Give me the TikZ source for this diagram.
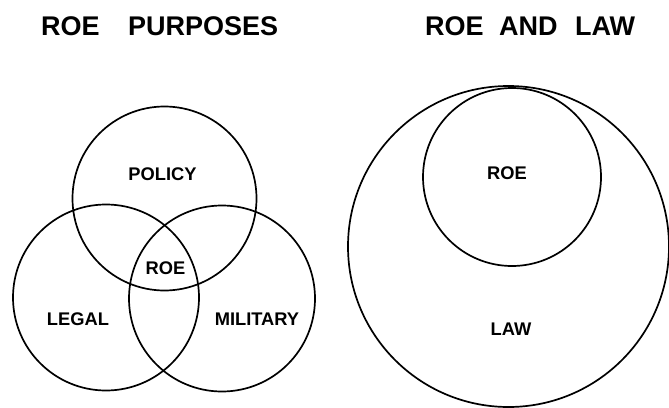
\documentclass[tikz,border=0pt]{standalone}
\usepackage{fontspec}
\setmainfont{Liberation Sans}
\begin{document}
\begin{tikzpicture}[x=1pt,y=-1pt,
  ring/.style={draw=black,line width=1.7pt,circle,inner sep=0pt,minimum size=#1},
  ttl/.style={anchor=base west,inner sep=0pt,font=\fontsize{27}{30}\selectfont\bfseries},
  lbl/.style={anchor=base,inner sep=0pt,font=\fontsize{18.3}{20}\selectfont\bfseries}]
\useasboundingbox (0,0) rectangle (669,407);
% titles
\node[ttl] (t1) at (41,35.7) {ROE};
\node[ttl] (t2) at (128,35.7) {PURPOSES};
\node[ttl] (t3) at (425,35.7) {ROE};
\node[ttl] (t4) at (499,35.7) {AND};
\node[ttl] (t5) at (575,35.7) {LAW};
% left Venn
\node[ring=184pt] (policy) at (164.5,198.5) {};
\node[ring=186pt] (legal) at (106,297.5) {};
\node[ring=186pt] (military) at (222,298.5) {};
\node[lbl] (lp) at (162.5,180) {POLICY};
\node[lbl] (lr) at (165.5,274) {ROE};
\node[lbl] (ll) at (78,325.7) {LEGAL};
\node[lbl] (lm) at (257,325.7) {MILITARY};
% right
\node[ring=321pt] (law) at (508.5,246.5) {};
\node[ring=178pt] (roe) at (512,177) {};
\node[lbl] (rr) at (507,179) {ROE};
\node[lbl] (rl) at (511,335) {LAW};
\end{tikzpicture}
\end{document}
